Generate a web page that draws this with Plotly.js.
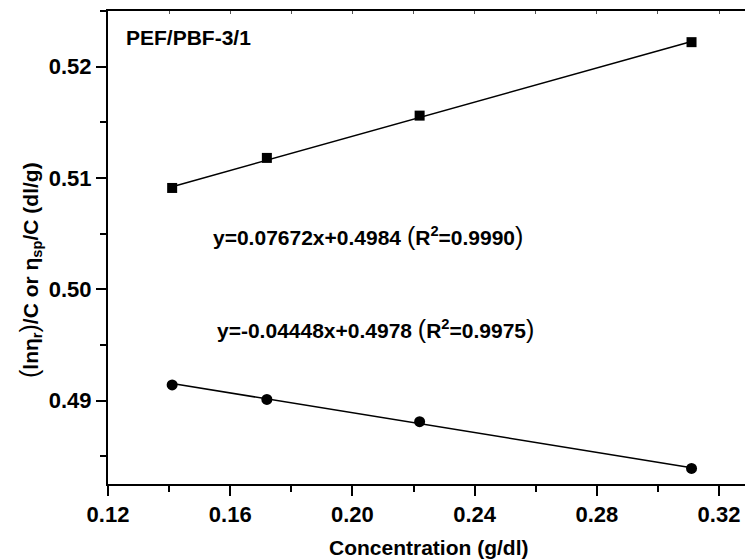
<!DOCTYPE html>
<html>
<head>
<meta charset="utf-8">
<script src="https://cdn.plot.ly/plotly-3.0.1.min.js"></script>
<style>html,body{margin:0;padding:0;background:#fff;}#chart{width:745px;height:560px;}</style>
</head>
<body>
<div id="chart"></div>
<script>
// Data
const concentration = [0.141, 0.172, 0.222, 0.311];
const inherentVisc = [0.5091, 0.5118, 0.5156, 0.5222];   // squares
const reducedVisc = [0.4914, 0.4901, 0.4881, 0.4839];    // circles
const fitSlopes = [0.07672, -0.04448];
const fitIntercepts = [0.4984, 0.4978];
const fitR2 = ['0.9990', '0.9975'];
const sampleLabel = 'PEF/PBF-3/1';
const xTitle = 'Concentration (g/dl)';

const FONT = 'Liberation Sans, Arial, Helvetica, sans-serif';
const W = 745, H = 560, ML = 108, MR = 0, MT = 11, MB = 76;
const pw = W - ML - MR, ph = H - MT - MB;
const xr = [0.12, 0.3285], yr = [0.4825, 0.525];
const px = v => (v - ML) / pw;          // pixel -> paper x
const py = v => 1 - (v - MT) / ph;      // pixel -> paper y

const big = s => '<span style="font-size:25px;font-weight:400">' + s + '</span>';
const fitText = i => 'y=' + fitSlopes[i] + 'x+' + fitIntercepts[i] + ' ' + big('(') +
  'R<sup>2</sup>=' + fitR2[i] + big(')');
const yTitle = big('(') + 'ln\u03b7<sub>r</sub>' + big(')') + '/C or \u03b7<sub>sp</sub>/C (dl/g)';

const xEnds = [concentration[0], concentration[concentration.length - 1]];
const fitLine = i => ({
  x: xEnds, y: xEnds.map(x => fitSlopes[i] * x + fitIntercepts[i]),
  mode: 'lines', line: {color: '#000', width: 1.6}, hoverinfo: 'skip', showlegend: false
});

const traces = [
  fitLine(0), fitLine(1),
  {x: concentration, y: inherentVisc, mode: 'markers', showlegend: false,
   marker: {symbol: 'square', size: 10, color: '#000'}},
  {x: concentration, y: reducedVisc, mode: 'markers', showlegend: false,
   marker: {symbol: 'circle', size: 11, color: '#000'}},
  {x: [null], y: [null], xaxis: 'x2', mode: 'markers', showlegend: false}
];

const tickFont = {family: FONT, size: 22, color: '#000', weight: 700};
const textFont = {family: FONT, size: 21, color: '#000', weight: 700};

const layout = {
  width: W, height: H,
  margin: {l: ML, r: MR, t: MT, b: MB, pad: 0},
  paper_bgcolor: '#fff', plot_bgcolor: '#fff',
  showlegend: false,
  xaxis: {
    range: xr, tickmode: 'linear', tick0: 0.12, dtick: 0.04, tickformat: '.2f',
    showgrid: false, zeroline: false, showline: true, linecolor: '#000', linewidth: 2, mirror: true,
    ticks: 'outside', ticklen: 10, tickwidth: 2, tickcolor: '#000',
    minor: {tick0: 0.12, dtick: 0.02, ticks: 'outside', ticklen: 6, tickwidth: 2, tickcolor: '#000', showgrid: false},
    tickfont: tickFont
  },
  xaxis2: {
    range: xr, overlaying: 'x', side: 'top', anchor: 'y',
    tickmode: 'linear', tick0: 0.12, dtick: 0.02, showticklabels: false,
    showgrid: false, zeroline: false, showline: false,
    ticks: 'inside', ticklen: 3, tickwidth: 1, tickcolor: '#555'
  },
  yaxis: {
    range: yr, tickmode: 'linear', tick0: 0.49, dtick: 0.01, tickformat: '.2f',
    showgrid: false, zeroline: false, showline: true, linecolor: '#000', linewidth: 2,
    ticks: 'outside', ticklen: 10, tickwidth: 2, tickcolor: '#000',
    minor: {tick0: 0.485, dtick: 0.005, ticks: 'outside', ticklen: 6, tickwidth: 2, tickcolor: '#000', showgrid: false},
    tickfont: tickFont
  },
  annotations: [
    {text: sampleLabel, xref: 'paper', yref: 'paper', x: px(124), y: py(38),
     xanchor: 'left', yanchor: 'middle', showarrow: false, font: textFont},
    {text: fitText(0), xref: 'paper', yref: 'paper', x: px(211), y: py(236),
     xanchor: 'left', yanchor: 'middle', showarrow: false, font: textFont},
    {text: fitText(1), xref: 'paper', yref: 'paper', x: px(215), y: py(329),
     xanchor: 'left', yanchor: 'middle', showarrow: false, font: textFont},
    {text: xTitle, xref: 'paper', yref: 'paper', x: px(428), y: py(547),
     xanchor: 'center', yanchor: 'middle', showarrow: false, font: textFont},
    {text: yTitle, xref: 'paper', yref: 'paper', x: px(30), y: py(270), textangle: -90,
     xanchor: 'center', yanchor: 'middle', showarrow: false, font: textFont}
  ]
};

Plotly.newPlot('chart', traces, layout, {staticPlot: true, displayModeBar: false});
</script>
</body>
</html>
